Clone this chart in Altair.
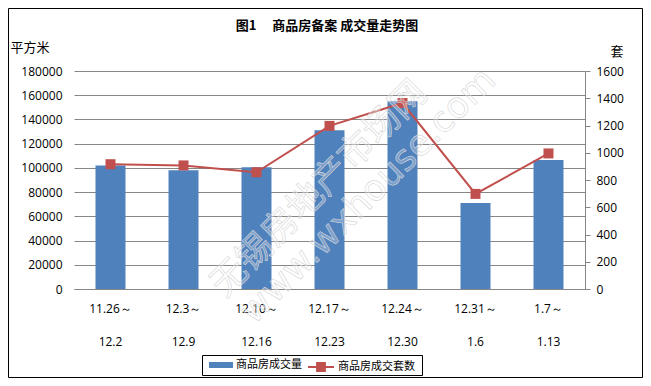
import altair as alt
import pandas as pd

weeks = ["11.26～|12.2", "12.3～|12.9", "12.10～|12.16", "12.17～|12.23",
         "12.24～|12.30", "12.31～|1.6", "1.7～|1.13"]
area = [102000, 98000, 100500, 131000, 155000, 71000, 106500]
units = [916, 907, 857, 1197, 1365, 698, 995]
bar_name = "商品房成交量"
line_name = "商品房成交套数"
title_text = "图1\u3000\u00a0商品房备案 成交量走势图"
left_unit = "平方米"
right_unit = "套"
wm1 = "无锡房地产市场网"
wm2 = "www.wxhouse.com"

df = pd.DataFrame({"week": weeks, "area": area, "units": units,
                   "s1": bar_name, "s2": line_name})

NUM_FONT = "Open Sans"
CJK = "Noto Sans CJK SC"
GRID = "#868686"

xenc = alt.X("week:N", sort=weeks,
             scale=alt.Scale(paddingInner=0.6, paddingOuter=0.3),
             axis=alt.Axis(title=None, labelAngle=0, ticks=False, domainColor=GRID,
                           labelExpr="split(datum.label, '|')", labelLineHeight=33,
                           labelBaseline="top", labelPadding=14, labelFont=NUM_FONT,
                           labelFontSize=12, labelColor="#000000"))

bars = alt.Chart(df).mark_bar(size=30).encode(
    x=xenc,
    y=alt.Y("area:Q", scale=alt.Scale(domain=[0, 180000], nice=False),
            axis=alt.Axis(title=None, values=list(range(0, 180001, 20000)), grid=True,
                          format="d", gridColor=GRID, domain=False, ticks=False,
                          labelPadding=12, labelFont=NUM_FONT, labelFontSize=12,
                          labelColor="#000000")),
    color=alt.Color("s1:N", scale=alt.Scale(domain=[bar_name], range=["#4F81BD"]),
                    legend=alt.Legend(title=None, orient="none", legendX=135, legendY=282,
                                      symbolType="M-1,-0.25H1V0.25H-1Z", symbolSize=576,
                                      padding=0, labelFont=CJK, labelFontSize=11,
                                      labelOffset=3, symbolStrokeWidth=0)),
)

line = alt.Chart(df).mark_line(strokeWidth=2, color="#C0504D",
                               point=alt.OverlayMarkDef(shape="square", size=100, filled=True,
                                                        color="#C0504D", opacity=1)).encode(
    x=alt.X("week:N", sort=weeks),
    y=alt.Y("units:Q", scale=alt.Scale(domain=[0, 1600], nice=False),
            axis=alt.Axis(title=None, orient="right", values=list(range(0, 1601, 200)),
                          format="d", grid=False, domainColor=GRID, tickColor=GRID,
                          tickSize=5, labelPadding=6, labelFont=NUM_FONT, labelFontSize=12,
                          labelColor="#000000")),
    color=alt.Color("s2:N", scale=alt.Scale(domain=[line_name], range=["#C0504D"]),
                    legend=alt.Legend(title=None, orient="none", legendX=233, legendY=282,
                                      symbolType="M-1,0H-0.3M0.3,0H1M-0.3,-0.3H0.3V0.3H-0.3Z",
                                      symbolSize=676, symbolStrokeWidth=2,
                                      symbolFillColor="#C0504D", symbolStrokeColor="#C0504D",
                                      padding=0, labelFont=CJK, labelFontSize=11,
                                      labelOffset=3)),
)

one = pd.DataFrame({"t": [title_text], "l": [left_unit], "r": [right_unit],
                    "w1": [wm1], "w2": [wm2]})

title = alt.Chart(one).mark_text(font=CJK, fontSize=13, fontWeight="bold", color="#000000",
                                 baseline="middle", align="center").encode(
    text="t:N", x=alt.value(253), y=alt.value(-45))
lunit = alt.Chart(one).mark_text(font=CJK, fontSize=13, color="#000000",
                                 baseline="middle", align="center").encode(
    text="l:N", x=alt.value(-44), y=alt.value(-23))
runit = alt.Chart(one).mark_text(font=CJK, fontSize=13, color="#000000",
                                 baseline="middle", align="center").encode(
    text="r:N", x=alt.value(543), y=alt.value(-19))
wmark1 = alt.Chart(one).mark_text(font=CJK, fontSize=36, angle=315, fill="#ffffff",
                                  fillOpacity=0.25, stroke="#d6d6d6", strokeWidth=0.6,
                                  baseline="middle", align="center").encode(
    text="w1:N", x=alt.value(245), y=alt.value(118))
wmark2 = alt.Chart(one).mark_text(font="DejaVu Sans", fontSize=36, angle=315, fill="#ffffff",
                                  fillOpacity=0.25, stroke="#d6d6d6", strokeWidth=0.6,
                                  baseline="middle", align="center").encode(
    text="w2:N", x=alt.value(294), y=alt.value(125))
border = alt.Chart(one).mark_rect(fill=None, stroke="#000000", strokeWidth=1).encode(
    x=alt.value(-65.5), x2=alt.value(568.5), y=alt.value(-62.5), y2=alt.value(306.5))
legbox = alt.Chart(one).mark_rect(fill=None, stroke="#000000", strokeWidth=1).encode(
    x=alt.value(128.5), x2=alt.value(348.5), y=alt.value(284.5), y2=alt.value(304.5))

chart = alt.layer(bars, line, wmark1, wmark2, title, lunit, runit, border, legbox).resolve_scale(
    y="independent", color="independent"
).properties(
    width=511, height=218,
    autosize=alt.AutoSizeParams(type="none"),
    padding={"left": 66, "top": 63, "right": 58, "bottom": 89},
    background="#ffffff",
).configure_view(stroke=None)

chart.save("out.html", embed_options={"renderer": "svg", "actions": False})
